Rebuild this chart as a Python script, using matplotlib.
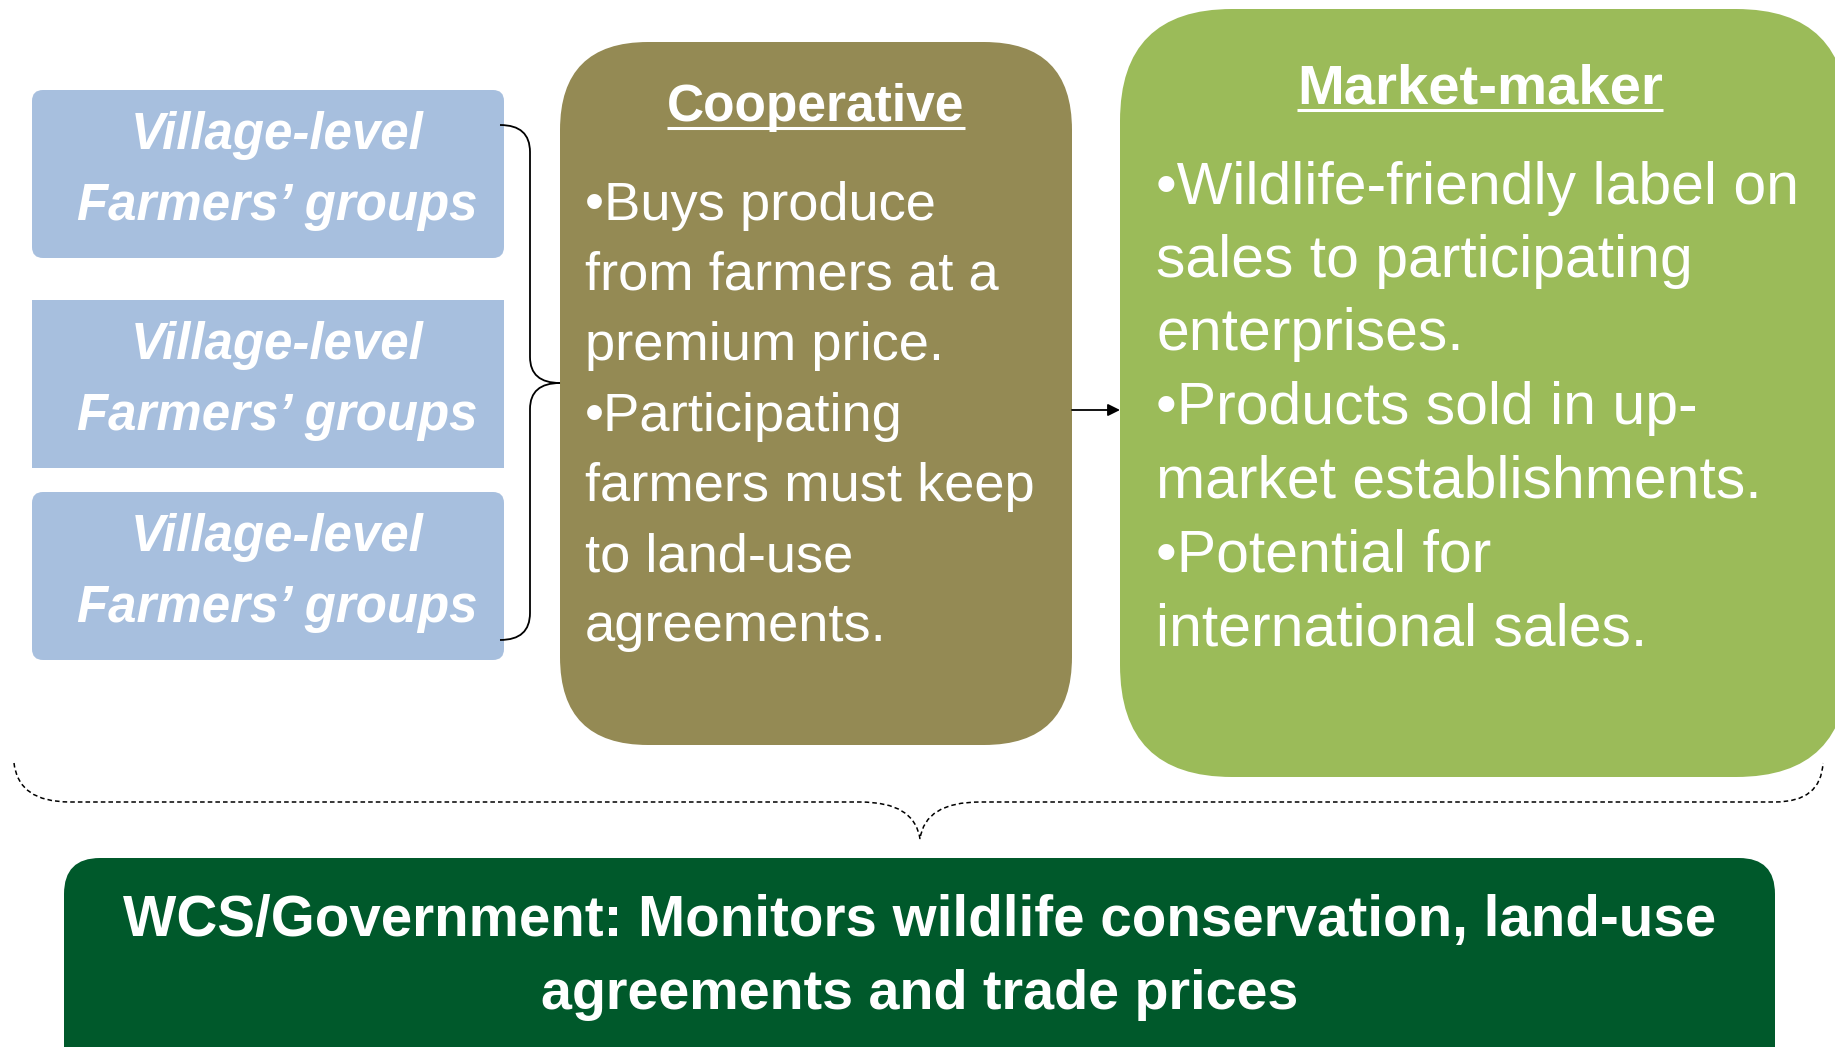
import matplotlib.pyplot as plt
from matplotlib import font_manager
from matplotlib.patches import FancyBboxPatch, PathPatch
from matplotlib.path import Path

# text content of the diagram
group_lines = ["Village-level", "Farmers\u2019 groups"]
group_count = 3
coop_title = "Cooperative"
coop_lines = ["\u2022Buys produce", "from farmers at a", "premium price.",
              "\u2022Participating", "farmers must keep", "to land-use",
              "agreements."]
market_title = "Market-maker"
market_lines = ["\u2022Wildlife-friendly label on", "sales to participating",
                "enterprises.", "\u2022Products sold in up-",
                "market establishments.", "\u2022Potential for",
                "international sales."]
gov_lines = ["WCS/Government: Monitors wildlife conservation, land-use",
             "agreements and trade prices"]

# colours
c_group = "#A7BFDE"
c_coop = "#948A54"
c_market = "#9BBB59"
c_gov = "#00592B"

names = {f.name for f in font_manager.fontManager.ttflist}
narrow = "Liberation Sans Narrow" if "Liberation Sans Narrow" in names else "Liberation Sans"
body = "Liberation Sans"

W, H = 1835, 1047
fig = plt.figure(figsize=(W / 100, H / 100), dpi=100)
ax = fig.add_axes([0, 0, 1, 1])
ax.set_xlim(0, W)
ax.set_ylim(H, 0)
ax.axis("off")
renderer = fig.canvas.get_renderer()


def box(x0, y0, x1, y1, color, r):
    p = FancyBboxPatch((x0, y0), x1 - x0, y1 - y0,
                       boxstyle=f"round,pad=0,rounding_size={r}" if r else "square,pad=0",
                       fc=color, ec="none")
    ax.add_patch(p)


def block(lines, x, ys, width, ha="left", **kw):
    # place lines and scale the font so the widest line spans `width` px
    texts = [ax.text(x, y, s, ha=ha, va="baseline", color="white",
                     fontsize=30, **kw) for s, y in zip(lines, ys)]
    wmax = max(t.get_window_extent(renderer).width for t in texts)
    for t in texts:
        t.set_fontsize(30 * width / wmax)
    return texts


def underline(t, offset, lw=2.2):
    bb = t.get_window_extent(renderer)
    y = t.get_position()[1] + offset
    ax.plot([bb.x0, bb.x1], [y, y], color="white", lw=lw, solid_capstyle="butt")


# farmer group boxes
group_tops = [90, 300, 492]
for i in range(group_count):
    top = group_tops[i]
    box(32, top, 504, top + 168, c_group, 0 if i == 1 else 11)
    block(group_lines, 277, [top + 59, top + 130], 400, ha="center",
          family=narrow, weight="bold", style="italic")

# cooperative
box(560, 42, 1072, 745, c_coop, 88)
t = block([coop_title], 816, [121], 297, ha="center", family=narrow, weight="bold")[0]
underline(t, 7)
block(coop_lines, 585, [220, 290, 360, 431, 501, 571, 641], 450, family=body)

# market-maker
box(1120, 9, 1848, 777, c_market, 112)
t = block([market_title], 1480, [103], 366, ha="center", family=narrow, weight="bold")[0]
underline(t, 7)
block(market_lines, 1156, [204, 277, 350, 424, 498, 572, 646], 640, family=body)

# government box
box(64, 858, 1775, 1120, c_gov, 36)
block(gov_lines[:1], 920, [936], 1593, ha="center", family=narrow, weight="bold")
block(gov_lines[1:], 920, [1009], 758, ha="center", family=narrow, weight="bold")

# bracket joining the farmer groups
V = [(500, 125), (530, 125), (530, 152), (530, 357), (530, 383), (560, 383),
     (530, 383), (530, 409), (530, 613), (530, 640), (500, 640)]
C = [Path.MOVETO, Path.CURVE3, Path.CURVE3, Path.LINETO, Path.CURVE3, Path.CURVE3,
     Path.CURVE3, Path.CURVE3, Path.LINETO, Path.CURVE3, Path.CURVE3]
ax.add_patch(PathPatch(Path(V, C), fc="none", ec="black", lw=1.3))

# arrow cooperative -> market-maker
ax.annotate("", xy=(1120, 410), xytext=(1072, 410),
            arrowprops=dict(arrowstyle="-|>", color="black", lw=1.3,
                            mutation_scale=18, shrinkA=0, shrinkB=0))

# dashed brace over the whole chain
V = [(14, 763), (18, 802), (70, 802), (860, 802), (915, 802), (920, 839),
     (925, 802), (980, 802), (1775, 802), (1821, 802), (1823, 763)]
C = [Path.MOVETO, Path.CURVE3, Path.CURVE3, Path.LINETO, Path.CURVE3, Path.CURVE3,
     Path.CURVE3, Path.CURVE3, Path.LINETO, Path.CURVE3, Path.CURVE3]
ax.add_patch(PathPatch(Path(V, C), fc="none", ec="black", lw=1.1,
                       linestyle=(0, (3, 2))))

fig.savefig("out.png", dpi=100)
